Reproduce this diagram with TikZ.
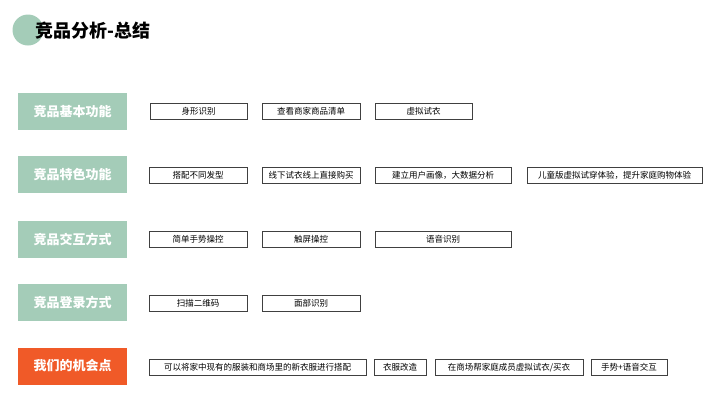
\documentclass[tikz,border=0pt]{standalone}
\usepackage{fontspec}
\setmainfont{Noto Sans CJK SC}
\begin{document}
\begin{tikzpicture}[x=1pt,y=-1pt,
 cat/.style={draw=none,fill=catg,minimum width=109pt,minimum height=37pt,text=white,font=\fontsize{13}{15}\selectfont\bfseries,inner sep=0pt},
 item/.style={draw=black!75,line width=0.6pt,minimum height=16pt,font=\fontsize{8.5}{9}\selectfont,inner sep=0pt}]
\definecolor{catg}{HTML}{A4CCB8}
\definecolor{orng}{HTML}{F05A28}
\useasboundingbox (0,0) rectangle (720,405);
\fill[catg] (28,30) circle (15.5);
\node[anchor=west,font=\fontsize{18}{20}\selectfont\bfseries,inner sep=0pt] (title) at (35,31) {竞品分析-总结};
\node[cat] (c1) at (72.5,111.5) {竞品基本功能};
\node[cat] (c2) at (72.5,174.5) {竞品特色功能};
\node[cat] (c3) at (72.5,239) {竞品交互方式};
\node[cat] (c4) at (72.5,302.5) {竞品登录方式};
\node[cat,fill=orng] (c5) at (72.5,366) {我们的机会点};
\newcommand\itm[5]{\node[item,minimum width=#3-#2 pt] (#1) at ({(#2+#3)/2},#4) {#5};}
\itm{a1}{150}{247}{111.5}{身形识别}
\itm{a2}{262}{360}{111.5}{查看商家商品清单}
\itm{a3}{375}{472}{111.5}{虚拟试衣}
\itm{b1}{149}{247}{175}{搭配不同发型}
\itm{b2}{262}{360}{175}{线下试衣线上直接购买}
\itm{b3}{375}{511}{175}{建立用户画像，大数据分析}
\itm{b4}{527}{702}{175}{儿童版虚拟试穿体验，提升家庭购物体验}
\itm{d1}{149}{247}{239.5}{简单手势操控}
\itm{d2}{262}{360}{239.5}{触屏操控}
\itm{d3}{375}{511}{239.5}{语音识别}
\itm{e1}{149}{247}{303}{扫描二维码}
\itm{e2}{262}{360}{303}{面部识别}
\itm{f1}{149}{366}{367.5}{可以将家中现有的服装和商场里的新衣服进行搭配}
\itm{f2}{374}{426}{367.5}{衣服改造}
\itm{f3}{435}{583}{367.5}{在商场帮家庭成员虚拟试衣/买衣}
\itm{f4}{591}{667}{367.5}{手势+语音交互}
\end{tikzpicture}
\end{document}
